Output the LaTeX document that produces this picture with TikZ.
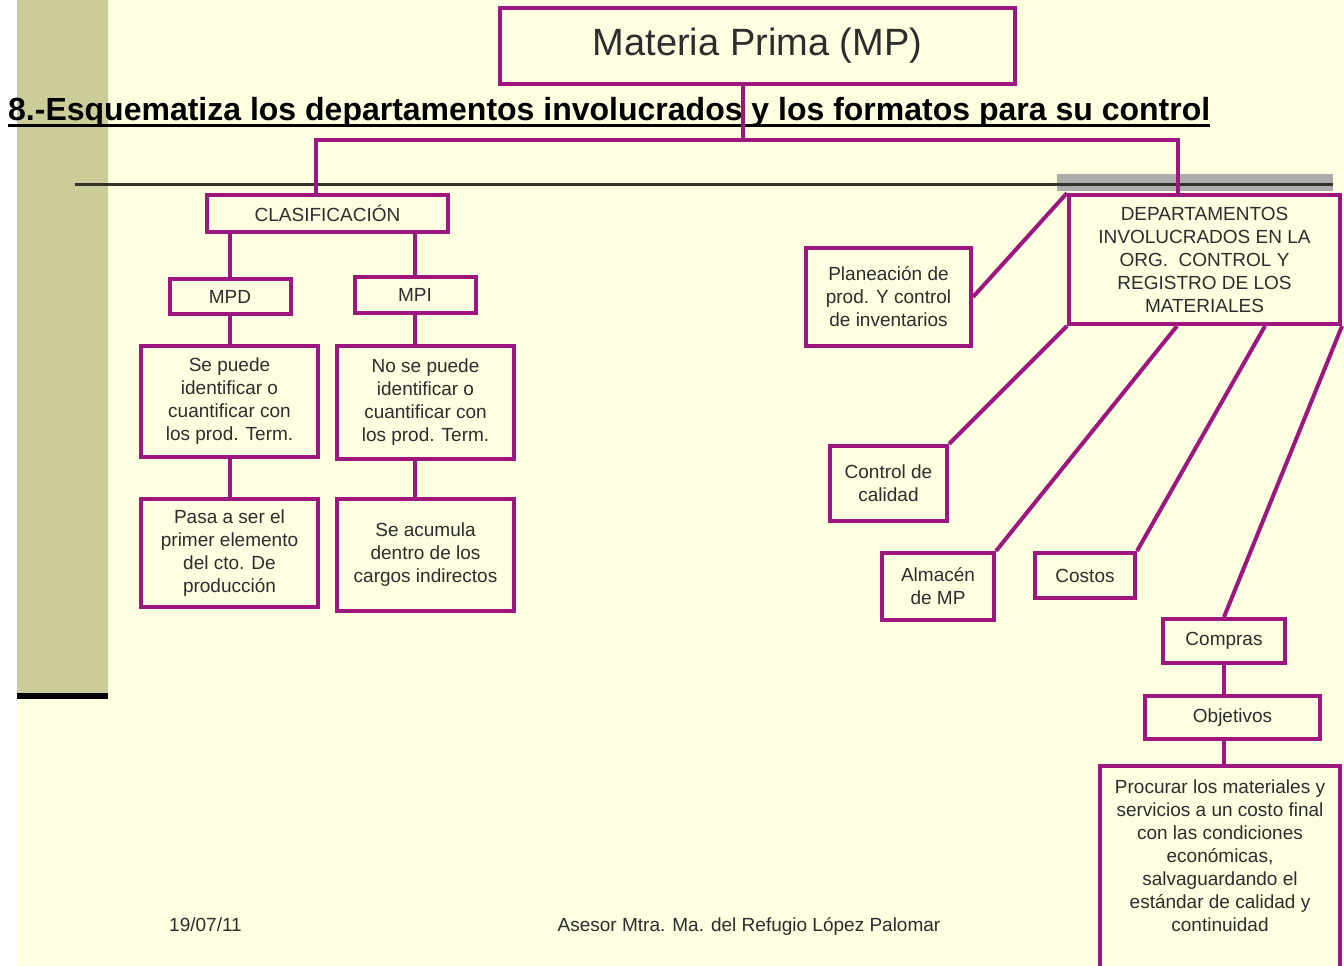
\documentclass[tikz,border=0pt]{standalone}
\usepackage{fontspec}
\setmainfont{Liberation Sans}
\usetikzlibrary{calc}
\definecolor{crema}{RGB}{254,254,224}
\definecolor{oliva}{RGB}{204,204,153}
\definecolor{borde}{RGB}{158,22,128}
\definecolor{texto}{RGB}{45,45,45}
\definecolor{gris}{RGB}{172,172,172}
\definecolor{raya}{RGB}{50,50,40}

\begin{document}
\begin{tikzpicture}[x=1pt,y=-1pt,
  caja/.style={draw=borde,line width=4pt,fill=crema,text=texto,align=center,inner sep=0pt,font=\fontsize{19}{23}\selectfont},
  linea/.style={draw=borde,line width=4pt},
  pie/.style={text=texto,inner sep=0pt,anchor=base,font=\fontsize{19}{23}\selectfont}]
\useasboundingbox (0,0) rectangle (1344,966);
\fill[crema] (0,0) rectangle (1344,966);
\fill[white] (0,0) rectangle (17,966);
\fill[oliva] (17,0) rectangle (108,693);
\fill[black] (17,693) rectangle (108,699);
\fill[gris] (1057,174) rectangle (1333,191);
\draw[raya,line width=3pt] (75,184) -- (1333,184);

\node[anchor=base west,inner sep=0pt,font=\fontsize{32}{38}\selectfont\bfseries] (titulo) at (8,120) {8.-Esquematiza los departamentos involucrados y los formatos para su control};
\draw[line width=3pt] ([yshift=-5pt]titulo.base west) -- ([yshift=-5pt]titulo.base east);

\node[caja,minimum width=515pt,minimum height=76pt,font=\fontsize{38}{44}\selectfont] (mp) at (757.5,46) {Materia Prima (MP)};
\node[caja,minimum width=241pt,minimum height=37pt] (clas) at (327.5,213.5) {CLASIFICACIÓN};
\node[caja,minimum width=121pt,minimum height=35pt] (mpd) at (230,296.5) {MPD};
\node[caja,minimum width=121pt,minimum height=36pt] (mpi) at (415,295) {MPI};
\node[caja,minimum width=177pt,minimum height=111pt] (sepuede) at (229.5,401.5) {Se puede\\identificar o\\cuantificar con\\los prod. Term.};
\node[caja,minimum width=177pt,minimum height=113pt] (nosepuede) at (425.5,402.5) {No se puede\\identificar o\\cuantificar con\\los prod. Term.};
\node[caja,minimum width=177pt,minimum height=108pt] (pasa) at (229.5,553) {Pasa a ser el\\primer elemento\\del cto. De\\producción};
\node[caja,minimum width=177pt,minimum height=112pt] (acumula) at (425.5,555) {Se acumula\\dentro de los\\cargos indirectos};

\node[caja,minimum width=271pt,minimum height=129pt] (depto) at (1204.5,259.5) {DEPARTAMENTOS\\INVOLUCRADOS EN LA\\ORG.\ \ CONTROL Y\\REGISTRO DE LOS\\MATERIALES};
\node[caja,minimum width=165pt,minimum height=98pt] (planea) at (888.5,297) {Planeación de\\prod. Y control\\de inventarios};
\node[caja,minimum width=117pt,minimum height=75pt] (calidad) at (888.5,483.5) {Control de\\calidad};
\node[caja,minimum width=112pt,minimum height=67pt] (almacen) at (938,586.5) {Almacén\\de MP};
\node[caja,minimum width=100pt,minimum height=45pt] (costos) at (1085,575.5) {Costos};
\node[caja,minimum width=122pt,minimum height=44pt] (compras) at (1224,641) {Compras};
\node[caja,minimum width=175pt,minimum height=43pt] (objetivos) at (1232.5,717.5) {Objetivos};
\node[caja,draw=none,fill=none,minimum width=236pt,inner ysep=12pt] (procurar) at (1220,856) {Procurar los materiales y\\servicios a un costo final\\con las condiciones\\económicas,\\salvaguardando el\\estándar de calidad y\\continuidad};
\draw[linea] ([yshift=-40pt]procurar.south west) -- (procurar.north west) -- (procurar.north east) -- ([yshift=-40pt]procurar.south east);

\coordinate (bus) at (743,140);
\coordinate (busizq) at (316,140);
\coordinate (busder) at (1178,140);
\draw[linea] (mp.south -| bus) -- (bus);
\draw[linea] (busizq |- clas.north) -- (busizq) -- (busder) -- (busder |- depto.north);
\draw[linea] (mpd.north) -- (mpd.north |- clas.south);
\draw[linea] (mpi.north) -- (mpi.north |- clas.south);
\draw[linea] (mpd.south) -- (mpd.south |- sepuede.north);
\draw[linea] (mpi.south) -- (mpi.south |- nosepuede.north);
\draw[linea] (sepuede.south) -- (pasa.north);
\draw[linea] (mpi.south |- nosepuede.south) -- (mpi.south |- acumula.north);

\draw[linea] (planea.east) -- (depto.north west);
\draw[linea] (calidad.north east) -- (depto.south west);
\draw[linea] (almacen.north east) -- ($(depto.south west)!0.4!(depto.south east)$);
\draw[linea] (costos.north east) -- ($(depto.south west)!0.72!(depto.south east)$);
\draw[linea] (compras.north) -- (depto.south east);
\draw[linea] (compras.south) -- (compras.south |- objetivos.north);
\draw[linea] (compras.south |- objetivos.south) -- (compras.south |- procurar.north);

\node[pie] (fecha) at (205.5,931) {19/07/11};
\node[pie] (asesor) at (749,931) {Asesor Mtra. Ma. del Refugio López Palomar};
\end{tikzpicture}
\end{document}
